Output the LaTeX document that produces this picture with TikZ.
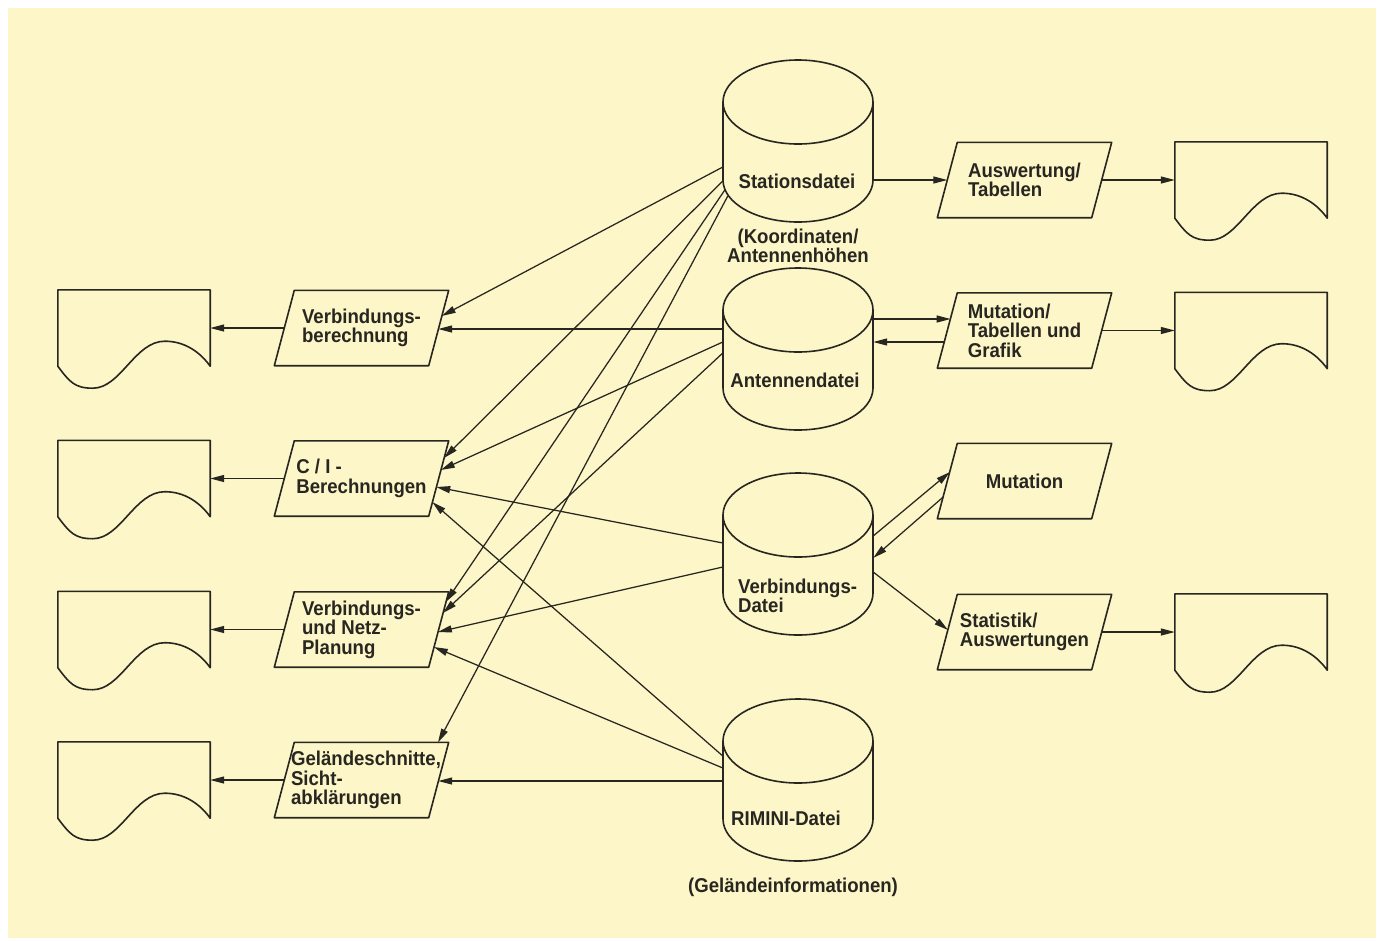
\documentclass[tikz,border=0pt]{standalone}
\usepackage{fontspec}
\setmainfont{Liberation Sans}
\newfontfamily\labfont{Liberation Sans}[FakeStretch=0.93]
\usetikzlibrary{calc,arrows.meta}
\definecolor{paper}{RGB}{252,246,200}
\definecolor{ink}{RGB}{40,38,32}
\newcommand\drawpara[1]{\draw[shp] ($(#1.north west)+(10,0)$) -- ($(#1.north east)+(10,0)$) -- ($(#1.south east)+(-10,0)$) -- ($(#1.south west)+(-10,0)$) -- cycle;}
\newcommand\drawpage[1]{\draw[shp] (#1.south west) -- (#1.north west) -- (#1.north east) -- (#1.south east) .. controls +(-10,-14) and +(20,0) .. ($(#1.south west)+(107,-25)$) .. controls +(-30,0) and +(28,0) .. ($(#1.south west)+(35,22)$) .. controls +(-18,0) and +(12,16) .. (#1.south west);}
\newcommand\drawcyl[1]{%
  \draw[shp] ($(#1.center)+(0,-39)$) ellipse[x radius=75pt, y radius=42pt];
  \draw[shp] ($(#1.center)+(-75,-39)$) -- ($(#1.center)+(-75,39)$) .. controls +(0,23.2) and +(-41.4,0) .. ($(#1.center)+(0,81)$) .. controls +(41.4,0) and +(0,23.2) .. ($(#1.center)+(75,39)$) -- ($(#1.center)+(75,-39)$);}
\begin{document}
\begin{tikzpicture}[x=1pt,y=-1pt, line join=round, line cap=round,
  shp/.style={draw=ink, line width=1.6pt},
  con/.style={draw=ink, line width=1.25pt, -{Triangle[length=14pt,width=7pt]}},
  proc/.style={minimum width=154pt, minimum height=75pt, inner sep=0pt, align=left, text=ink},
  pg/.style={minimum width=152pt, minimum height=76pt, inner sep=0pt},
  cyl/.style={minimum width=150pt, minimum height=162pt, inner sep=0pt},
  lbl/.style={inner sep=0pt, text=ink, align=left},
  font=\labfont\bfseries\fontsize{20}{19.5}\selectfont]
\useasboundingbox (0,0) rectangle (1380,940);
\fill[white] (0,0) rectangle (1380,940);
\fill[paper] (8,8) rectangle (1376,938);

% data files (cylinders)
\node[cyl] (stat) at (798,141) {};
\node[cyl] (ant) at (798,349) {};
\node[cyl] (vd) at (798,554) {};
\node[cyl] (rim) at (798,780) {};
\drawcyl{stat}\drawcyl{ant}\drawcyl{vd}\drawcyl{rim}
\node[lbl] (statT) at (797,181) {Stationsdatei};
\node[lbl, align=center] (statK) at (798,246) {(Koordinaten/\\Antennenhöhen};
\node[lbl] (antT) at (795,380) {Antennendatei};
\node[lbl, anchor=west] (vdT) at (738,596) {Verbindungs-\\Datei};
\node[lbl] (rimT) at (786,818) {RIMINI-Datei};
\node[lbl] (rimG) at (793,887) {(Geländeinformationen)};

% processes
\node[proc] (vb) at (361.5,328) {Verbindungs-\\berechnung};
\node[proc] (ci) at (361.5,478.5) {C / I -\\Berechnungen};
\node[proc] (vn) at (361.5,629.5) {Verbindungs-\\und Netz-\\Planung};
\node[proc] (ge) at (361.5,780) {};
\node[lbl] (geT) at (366,780) {Geländeschnitte,\\Sicht-\\abklärungen};
\node[proc] (aw) at (1024.5,180) {Auswertung/\\Tabellen};
\node[proc] (mt) at (1024.5,330.5) {Mutation/\\Tabellen und\\Grafik};
\node[proc] (mu) at (1024.5,481) {Mutation};
\node[proc] (st) at (1024.5,632) {Statistik/\\Auswertungen};
\drawpara{vb}\drawpara{ci}\drawpara{vn}\drawpara{ge}
\drawpara{aw}\drawpara{mt}\drawpara{mu}\drawpara{st}

% output documents
\node[pg] (o1) at (134,328) {};
\node[pg] (o2) at (134,478.5) {};
\node[pg] (o3) at (134,629.5) {};
\node[pg] (o4) at (134,780) {};
\node[pg] (r1) at (1251,180) {};
\node[pg] (r2) at (1251,330.5) {};
\node[pg] (r3) at (1251,632) {};
\drawpage{o1}\drawpage{o2}\drawpage{o3}\drawpage{o4}
\drawpage{r1}\drawpage{r2}\drawpage{r3}

% outputs
\draw[con] (vb.west) -- (o1.east);
\draw[con] (ci.west) -- (o2.east);
\draw[con] (vn.west) -- (o3.east);
\draw[con] (ge.west) -- (o4.east);
\draw[con] (aw.east) -- (r1.west);
\draw[con] (mt.east) -- (r2.west);
\draw[con] (st.east) -- (r3.west);

% right side
\draw[con] ($(stat.east)+(0,39)$) -- (aw.west);
\draw[con] ($(ant.east)+(0,-30)$) -- ($(mt.center)+(-73.9,-11.5)$);
\draw[con] ($(mt.center)+(-80.1,11.5)$) -- ($(ant.east)+(0,-7)$);
\draw[con] ($(vd.east)+(0,-18)$) -- ($(mu.center)+(-74.6,-9)$);
\draw[con] ($(mu.center)+(-81.3,16)$) -- ($(vd.east)+(0,4)$);
\draw[con] ($(vd.east)+(0,18)$) -- ($(st.center)+(-76.5,-2)$);

% left fan
\draw[con] ($(stat.west)+(0,26)$) -- ($(vb.center)+(80.2,-12)$);
\draw[con] ($(ant.west)+(0,-20)$) -- ($(vb.center)+(76.7,1)$);
\draw[con] ($(stat.west)+(0,40)$) -- ($(ci.center)+(82.5,-20.5)$);
\draw[con] ($(ant.west)+(0,-7)$) -- ($(ci.center)+(79.3,-8.5)$);
\draw[con] ($(vd.west)+(0,-11)$) -- ($(ci.center)+(74.7,8.5)$);
\draw[con] ($(rim.west)+(0,-24)$) -- ($(ci.center)+(70.7,23.5)$);
\draw[con] ($(stat.west)+(2,49)$) -- ($(vn.center)+(84.3,-27.5)$);
\draw[con] ($(ant.west)+(0,4)$) -- ($(vn.center)+(81.4,-16.5)$);
\draw[con] ($(vd.west)+(0,13)$) -- ($(vn.center)+(76.3,2.5)$);
\draw[con] ($(rim.west)+(0,-12)$) -- ($(vn.center)+(72.3,17.5)$);
\draw[con] ($(stat.west)+(5,55)$) -- ($(ge.center)+(76.5,-37.5)$);
\draw[con] ($(rim.west)+(0,1)$) -- ($(ge.center)+(76.7,1)$);
\end{tikzpicture}
\end{document}
